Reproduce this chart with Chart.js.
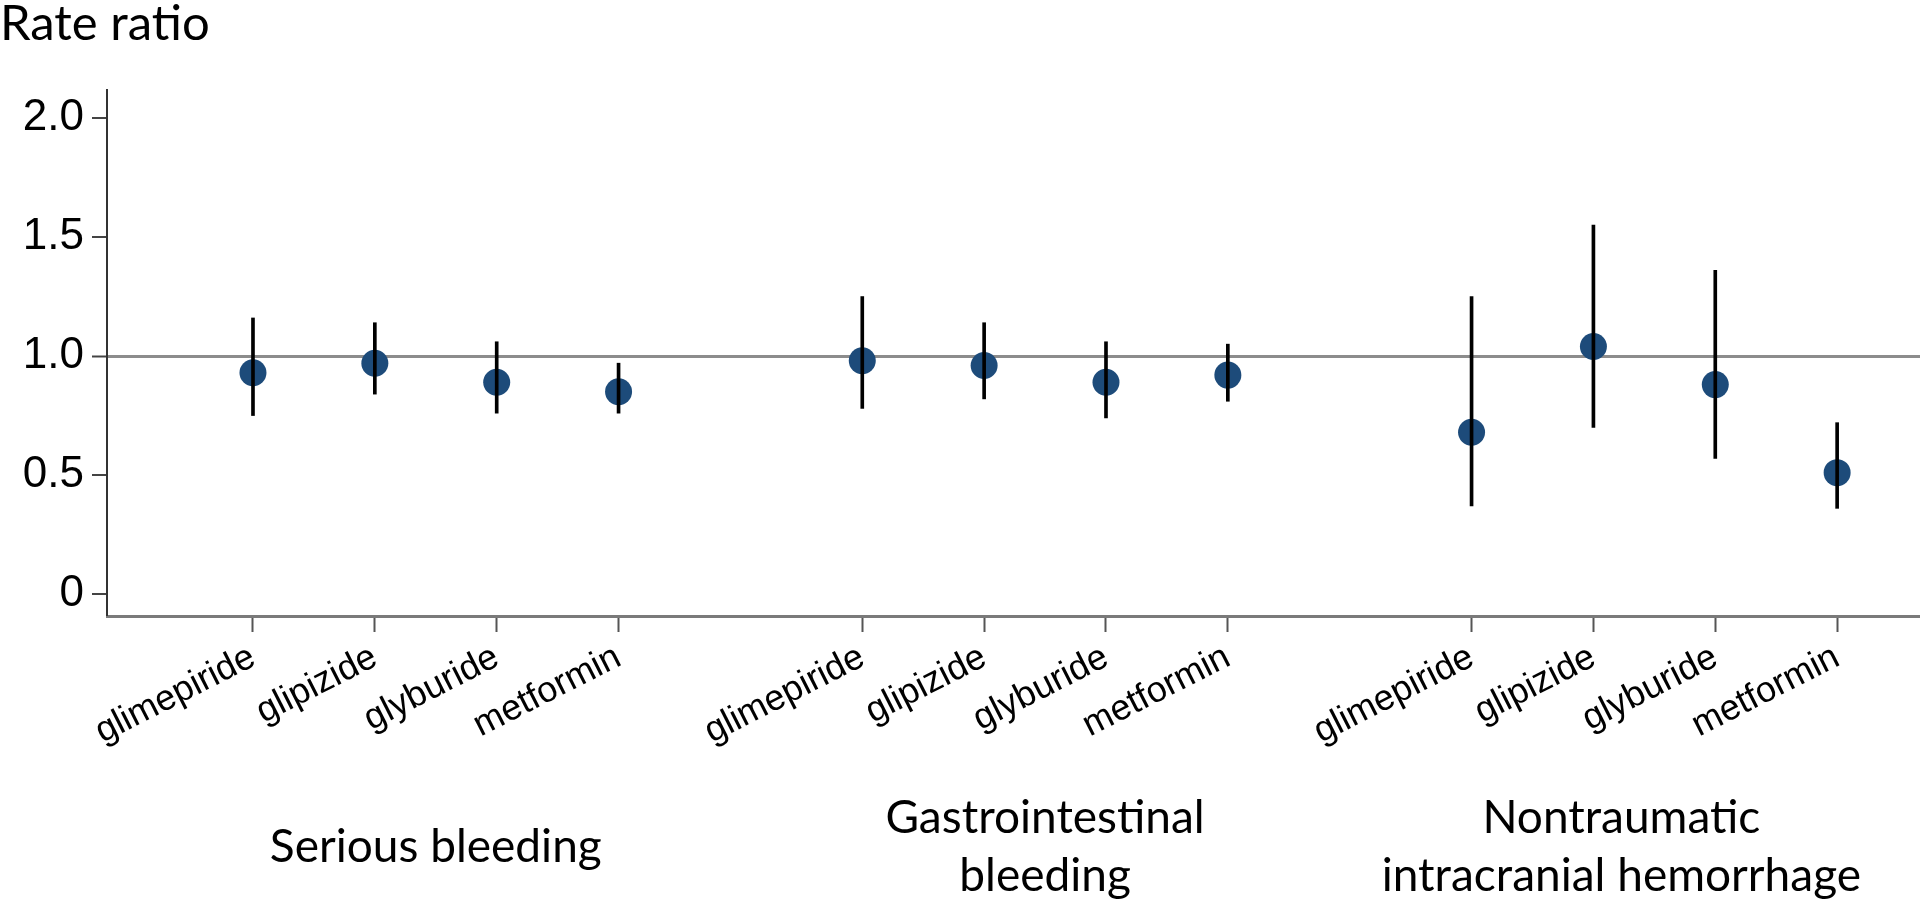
<!DOCTYPE html>
<html>
<head>
<meta charset="utf-8">
<script src="https://cdn.jsdelivr.net/npm/chart.js@4"></script>
<style>
  html, body { margin: 0; padding: 0; background: #fff; }
  #wrap { width: 1920px; height: 903px; }
</style>
</head>
<body>
<div id="wrap"><canvas id="myChart" width="1920" height="903"></canvas></div>
<script>
// drugs repeated in each outcome group
const drugs = ["glimepiride", "glipizide", "glyburide", "metformin"];
const outcomes = [
  ["Serious bleeding"],
  ["Gastrointestinal", "bleeding"],
  ["Nontraumatic", "intracranial hemorrhage"],
];
// rate ratio and 95% CI, in order: outcome group, then drug
const rateRatio = [0.93, 0.97, 0.89, 0.85, 0.98, 0.96, 0.89, 0.92, 0.68, 1.04, 0.88, 0.51];
const ciLower = [0.75, 0.84, 0.76, 0.76, 0.78, 0.82, 0.74, 0.81, 0.37, 0.70, 0.57, 0.36];
const ciUpper = [1.16, 1.14, 1.06, 0.97, 1.25, 1.14, 1.06, 1.05, 1.25, 1.55, 1.36, 0.72];
const yTicks = [0, 0.5, 1, 1.5, 2];
const yTickLabels = ["0", "0.5", "1.0", "1.5", "2.0"];

// each group takes 4 slots plus one empty slot as a gap
const slotOf = (i) => Math.floor(i / drugs.length) * (drugs.length + 1) + (i % drugs.length);
const slots = rateRatio.map((v, i) => slotOf(i));
const slotLabel = {};
slots.forEach((s, i) => { slotLabel[s] = drugs[i % drugs.length]; });

const BLUE = "#1d4b7a";
const LABEL_FONT = "Lato, 'Noto Sans', sans-serif";

// outcome names under the rotated drug labels
const groupLabels = {
  id: "groupLabels",
  afterDraw(chart) {
    const { ctx, chartArea, scales } = chart;
    const nudge = [0, 0, -33];
    const lineGap = 58;
    ctx.save();
    ctx.font = "46px " + LABEL_FONT;
    ctx.fillStyle = "#000";
    ctx.textAlign = "center";
    ctx.textBaseline = "alphabetic";
    outcomes.forEach((lines, g) => {
      const first = slotOf(g * drugs.length);
      const last = slotOf(g * drugs.length + drugs.length - 1);
      const x = scales.x.getPixelForValue((first + last) / 2) + nudge[g];
      const mid = chartArea.bottom + 246;
      lines.forEach((t, k) => {
        ctx.fillText(t, x, mid + (k - (lines.length - 1) / 2) * lineGap);
      });
    });
    ctx.restore();
  },
};

const ctx = document.getElementById("myChart");
new Chart(ctx, {
  type: "scatter",
  data: {
    datasets: [
      {
        type: "bar",
        label: "95% CI",
        data: slots.map((s, i) => ({ x: s, y: [ciLower[i], ciUpper[i]] })),
        backgroundColor: "#000",
        barThickness: 3,
        grouped: false,
        order: 0,
      },
      {
        type: "scatter",
        label: "Rate ratio",
        data: slots.map((s, i) => ({ x: s, y: rateRatio[i] })),
        backgroundColor: BLUE,
        borderWidth: 0,
        pointRadius: 13.5,
        order: 1,
      },
    ],
  },
  options: {
    responsive: false,
    animation: false,
    devicePixelRatio: 1,
    layout: { autoPadding: false, padding: 0 },
    plugins: {
      legend: { display: false },
      tooltip: { enabled: false },
      title: {
        display: true,
        text: "Rate ratio",
        align: "start",
        color: "#000",
        font: { family: LABEL_FONT, size: 49, weight: "normal", lineHeight: 1 },
        padding: { top: 0, bottom: 41 },
      },
    },
    scales: {
      x: {
        type: "linear",
        min: -1.198,
        max: 13.68,
        offset: false,
        afterBuildTicks: (scale) => {
          scale.ticks = slots.map((s) => ({ value: s }));
        },
        afterFit: (scale) => {
          scale.height = 287;
          scale.paddingLeft = 0;
          scale.paddingRight = 0;
        },
        ticks: {
          autoSkip: false,
          minRotation: 27,
          maxRotation: 27,
          padding: 4,
          color: "#000",
          font: { family: "'Liberation Sans', Arial, sans-serif", size: 36 },
          callback: (v) => slotLabel[v] || "",
        },
        grid: {
          offset: false,
          drawOnChartArea: false,
          tickLength: 16,
          tickColor: "#555",
          tickWidth: 2,
        },
        border: { display: true, color: "#7a7a7a", width: 3 },
      },
      y: {
        min: -0.0924,
        max: 2.118,
        afterBuildTicks: (scale) => {
          scale.ticks = yTicks.map((v) => ({ value: v }));
        },
        afterFit: (scale) => {
          scale.width = 107;
          scale.paddingTop = 0;
          scale.paddingBottom = 0;
        },
        ticks: {
          padding: 8,
          color: "#000",
          font: { family: "'Liberation Sans', Arial, sans-serif", size: 44 },
          callback: (v) => yTickLabels[yTicks.indexOf(v)],
        },
        grid: {
          drawOnChartArea: true,
          color: (c) => (c.tick && c.tick.value === 1 ? "#8c8c8c" : "rgba(0,0,0,0)"),
          lineWidth: (c) => (c.tick && c.tick.value === 1 ? 3 : 0),
          tickLength: 15,
          tickColor: "#444",
          tickWidth: 2,
        },
        border: { display: true, color: "#333", width: 2 },
      },
    },
  },
  plugins: [groupLabels],
});
</script>
</body>
</html>
